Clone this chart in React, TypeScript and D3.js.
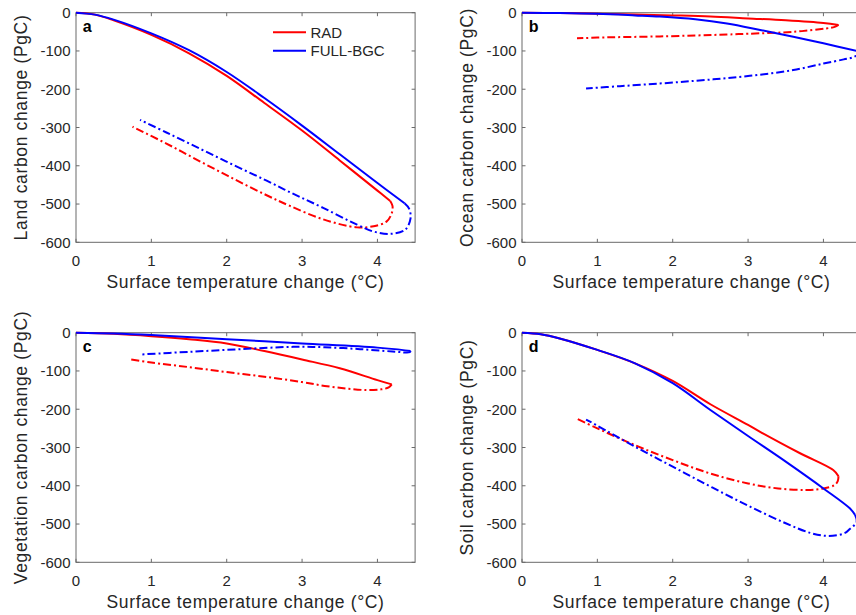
import React from "react";
import * as d3 from "d3";

type P = [number, number];

const xTicks = [0, 1, 2, 3, 4];
const yTicks = [0, -100, -200, -300, -400, -500, -600];
const seriesNames = ["RAD", "FULL-BGC"];
const seriesColors = ["#ff0000", "#0000ff"];
const panelLetters = ["a", "b", "c", "d"];
const yLabels = [
  "Land carbon change (PgC)",
  "Ocean carbon change (PgC)",
  "Vegetation carbon change (PgC)",
  "Soil carbon change (PgC)",
];
const xLabel = "Surface temperature change (°C)";

// Panel a: land
const landRadUp: P[] = [[0, 0], [0.25, -5], [0.5, -20], [1, -58], [1.5, -106], [2, -165], [2.5, -236], [3, -308], [3.5, -386], [4, -465], [4.17, -492]];
const landRadDown: P[] = [[4.17, -492], [4.2, -505], [4.19, -524], [4.12, -546], [3.95, -558], [3.73, -561], [3.28, -540], [2.84, -505], [2.53, -477], [2.09, -434], [1.65, -389], [1.2, -342], [0.75, -298]];
const landBgcUp: P[] = [[0, 0], [0.25, -5], [0.5, -18], [1, -54], [1.5, -98], [2, -155], [2.5, -223], [3, -295], [3.5, -370], [4, -445], [4.36, -498]];
const landBgcDown: P[] = [[4.36, -498], [4.42, -512], [4.44, -537], [4.37, -567], [4.17, -578], [3.95, -572], [3.73, -554], [3.28, -510], [2.9, -475], [2.53, -439], [2.09, -398], [1.65, -356], [1.2, -313], [0.85, -280]];

// Panel b: ocean
const oceanRadUp: P[] = [[0, 0], [0.5, -1], [1, -2.5], [1.5, -4.5], [2, -7], [2.5, -10], [3, -15], [3.5, -20], [4, -27], [4.2, -32]];
const oceanRadDown: P[] = [[4.2, -32], [4.15, -37], [4.04, -41], [3.6, -50], [3, -55], [2.72, -57], [1.83, -62], [1, -65], [0.73, -67]];
const oceanBgcUp: P[] = [[0, 0], [0.5, -1], [1, -3], [1.5, -7], [1.83, -10], [2.3, -17], [2.72, -28], [3.16, -45], [3.6, -63], [4, -80], [4.44, -100]];
const oceanBgcDown: P[] = [[4.44, -100], [4.46, -108], [4.4, -116], [4.27, -122], [4, -133], [3.6, -150], [3.16, -162], [2.72, -171], [2.3, -178], [1.83, -185], [1.3, -192], [0.85, -198]];

// Panel c: vegetation
const vegRadUp: P[] = [[0, 0], [0.5, -3], [1, -9], [1.5, -17], [2, -28], [2.5, -48], [3, -70], [3.5, -93], [4, -124], [4.19, -135]];
const vegRadDown: P[] = [[4.19, -135], [4.15, -143], [4.05, -148], [3.86, -150], [3.6, -146], [3.3, -139], [3, -129], [2.5, -115], [2, -103], [1.5, -90], [1, -78], [0.73, -70]];
const vegBgcUp: P[] = [[0, 0], [0.5, -2], [1, -6], [2, -17], [3, -28], [4, -39], [4.44, -48]];
const vegBgcDown: P[] = [[4.44, -48], [4.43, -51], [4.2, -49], [3.77, -43], [3.3, -38], [2.88, -37], [2.18, -43], [1.5, -50], [0.85, -57]];

// Panel d: soil
const soilRadUp: P[] = [[0, 0], [0.25, -4], [0.5, -15], [1, -45], [1.5, -80], [2, -126], [2.5, -187], [3, -241], [3.16, -259], [3.69, -315], [4.13, -359], [4.2, -375]];
const soilRadDown: P[] = [[4.2, -375], [4.19, -388], [4.15, -398], [4, -407], [3.78, -411], [3.4, -407], [3, -394], [2.5, -368], [2, -333], [1.5, -294], [1, -250], [0.74, -226]];
const soilBgcUp: P[] = [[0, 0], [0.25, -4], [0.5, -15], [1, -45], [1.5, -80], [2, -132], [2.5, -202], [3, -270], [3.5, -337], [4, -407], [4.35, -459], [4.42, -476]];
const soilBgcDown: P[] = [[4.42, -476], [4.44, -495], [4.35, -513], [4.28, -524], [4.06, -531], [3.84, -524], [3.5, -498], [3, -452], [2.5, -402], [2, -350], [1.5, -298], [1, -243], [0.85, -227]];

const panelSeries: P[][][] = [
  [landRadUp, landRadDown, landBgcUp, landBgcDown],
  [oceanRadUp, oceanRadDown, oceanBgcUp, oceanBgcDown],
  [vegRadUp, vegRadDown, vegBgcUp, vegBgcDown],
  [soilRadUp, soilRadDown, soilBgcUp, soilBgcDown],
];

const FONT = "'Liberation Sans', Arial, Helvetica, sans-serif";
const TEXT = "#262626";
const AXIS = "#6a6a6a";

export default function App() {
  const W = 856;
  const H = 615;
  const pw = 339.1;
  const ph = 229.6;
  const origins: [number, number][] = [
    [76, 12.7],
    [522, 12.7],
    [76, 332.7],
    [522, 332.7],
  ];
  const x = d3.scaleLinear().domain([0, 4.5]).range([0, pw]);
  const y = d3.scaleLinear().domain([-600, 0]).range([ph, 0]);
  const line = d3
    .line<P>()
    .x((d) => x(d[0]))
    .y((d) => y(d[1]))
    .curve(d3.curveCatmullRom.alpha(0.5));
  const tl = 3.5;

  return (
    <svg
      width={W}
      height={H}
      style={{ position: "absolute", left: 0, top: 0, background: "#fff" }}
      fontFamily={FONT}
    >
      <rect width={W} height={H} fill="#fff" />
      {origins.map(([ox, oy], pi) => (
        <g key={pi} transform={`translate(${ox},${oy})`}>
          {xTicks.map((t) => (
            <g key={"x" + t}>
              <line x1={x(t)} x2={x(t)} y1={ph} y2={ph - tl} stroke={AXIS} strokeWidth={1} />
              <line x1={x(t)} x2={x(t)} y1={0} y2={tl} stroke={AXIS} strokeWidth={1} />
              <text x={x(t)} y={ph + 24} textAnchor="middle" fontSize={15} fill={TEXT}>
                {t}
              </text>
            </g>
          ))}
          {yTicks.map((t) => (
            <g key={"y" + t}>
              <line x1={0} x2={tl} y1={y(t)} y2={y(t)} stroke={AXIS} strokeWidth={1} />
              <line x1={pw} x2={pw - tl} y1={y(t)} y2={y(t)} stroke={AXIS} strokeWidth={1} />
              <text x={-5.5} y={y(t)} dy="0.36em" textAnchor="end" fontSize={15} fill={TEXT}>
                {t}
              </text>
            </g>
          ))}
          <rect x={0} y={0} width={pw} height={ph} fill="none" stroke={AXIS} strokeWidth={1} />
          {panelSeries[pi].map((s, si) => (
            <path
              key={si}
              d={line(s) || ""}
              fill="none"
              stroke={seriesColors[Math.floor(si / 2)]}
              strokeWidth={2}
              strokeDasharray={si % 2 === 1 ? "8,3,2,3" : undefined}
            />
          ))}
          <text x={6.7} y={19} fontSize={16} fontWeight="bold" fill="#000">
            {panelLetters[pi]}
          </text>
          <text
            x={pw / 2}
            y={ph + 46}
            textAnchor="middle"
            fontSize={17.5}
            letterSpacing={0.65}
            fill={TEXT}
          >
            {xLabel}
          </text>
          <text
            transform={`translate(${-49},${ph / 2}) rotate(-90)`}
            textAnchor="middle"
            fontSize={17.5}
            letterSpacing={0.65}
            fill={TEXT}
          >
            {yLabels[pi]}
          </text>
          {pi === 0 &&
            seriesNames.map((n, i) => (
              <g key={n} transform={`translate(197,${19.6 + i * 18.4})`}>
                <line x1={0} x2={33} y1={0} y2={0} stroke={seriesColors[i]} strokeWidth={2} />
                <text x={37.5} y={0} dy="0.36em" fontSize={15} fill={TEXT}>
                  {n}
                </text>
              </g>
            ))}
        </g>
      ))}
    </svg>
  );
}
